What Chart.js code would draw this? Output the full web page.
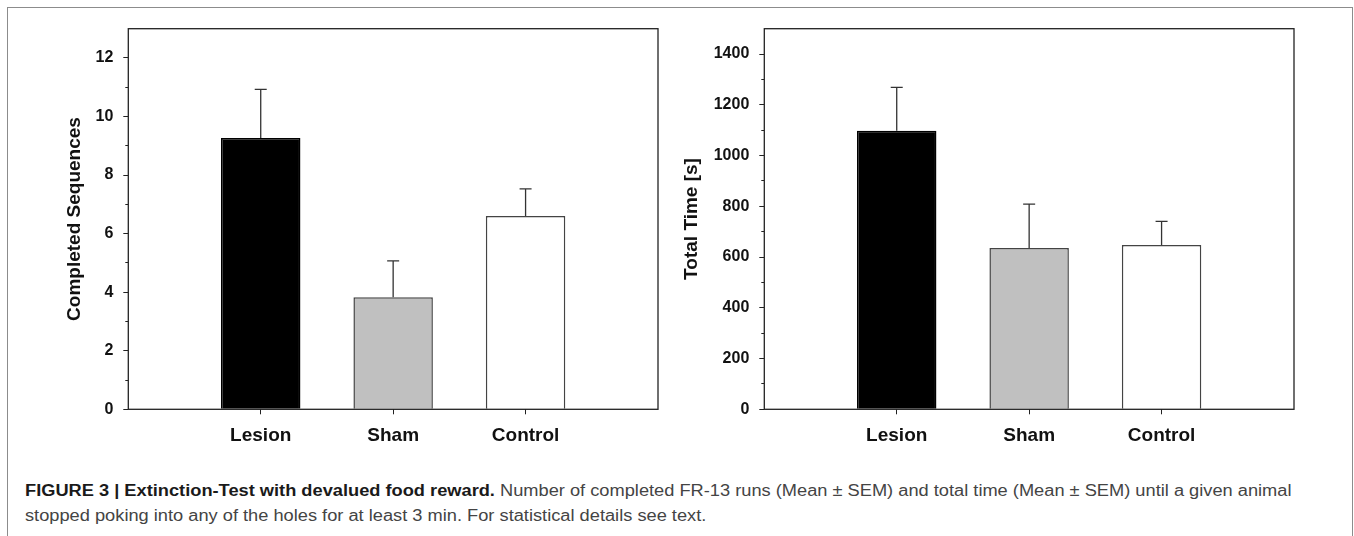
<!DOCTYPE html>
<html>
<head>
<meta charset="utf-8">
<script src="https://cdn.jsdelivr.net/npm/chart.js@4.4.1/dist/chart.umd.min.js"></script>
<style>
  html, body { margin: 0; padding: 0; background: #fff; overflow: hidden; }
  body { width: 1354px; height: 536px; position: relative; }
  #frame { position: absolute; left: 7px; top: 7px; width: 1346px; height: 600px; box-sizing: border-box; border: 1.5px solid #8c8c8c; }
  #c1 { position: absolute; left: 0; top: 0; }
  #c2 { position: absolute; left: 670px; top: 0; }
  #caption { position: absolute; left: 25px; top: 478px; font: 16px "Liberation Sans", Arial, sans-serif; line-height: 25px; color: #444; white-space: nowrap; transform: scaleX(1.14); transform-origin: 0 0; }
  #caption b { color: #1a1a1a; }
</style>
</head>
<body>
<div id="frame"></div>
<canvas id="c1" width="670" height="460"></canvas>
<canvas id="c2" width="684" height="460"></canvas>
<div id="caption"><b>FIGURE 3 | Extinction-Test with devalued food reward.</b> Number of completed FR-13 runs (Mean ± SEM) and total time (Mean ± SEM) until a given animal<br>stopped poking into any of the holes for at least 3 min. For statistical details see text.</div>
<script>
// groups and values
var groups = ['Lesion', 'Sham', 'Control'];
var seqMean = [9.27, 3.83, 6.6];
var seqSem = [1.66, 1.24, 0.93];
var timeMean = [1098, 636, 648];
var timeSem = [171, 173, 93];

var seqTicks = [0, 2, 4, 6, 8, 10, 12];
var seqMinor = [1, 3, 5, 7, 9, 11];
var timeTicks = [0, 200, 400, 600, 800, 1000, 1200, 1400];
var timeMinor = [100, 300, 500, 700, 900, 1100, 1300];

var barFill = ['#000000', '#c0c0c0', '#ffffff'];
var barLine = ['#000000', '#444444', '#444444'];

Chart.defaults.font.family = '"Liberation Sans", Arial, sans-serif';
Chart.defaults.color = '#111';

// upper error bars from the y scale
var errorBars = {
  id: 'errorBars',
  afterDatasetsDraw: function (chart) {
    var ctx = chart.ctx;
    var meta = chart.getDatasetMeta(0);
    var sem = chart.options.plugins.errorBars.sem;
    var ys = chart.scales.y;
    ctx.save();
    ctx.strokeStyle = '#333';
    ctx.lineWidth = 1.3;
    meta.data.forEach(function (bar, i) {
      var v = chart.data.datasets[0].data[i];
      if (v == null) return;
      var top = ys.getPixelForValue(v + sem[i - 1]);
      ctx.beginPath();
      ctx.moveTo(bar.x, bar.y);
      ctx.lineTo(bar.x, top);
      ctx.moveTo(bar.x - 6, top);
      ctx.lineTo(bar.x + 6, top);
      ctx.stroke();
    });
    ctx.restore();
  }
};

// box round the plot area
var plotBox = {
  id: 'plotBox',
  afterDatasetsDraw: function (chart) {
    var a = chart.chartArea;
    var ctx = chart.ctx;
    ctx.save();
    ctx.strokeStyle = '#222';
    ctx.lineWidth = 1.3;
    ctx.strokeRect(a.left, a.top, a.right - a.left, a.bottom - a.top);
    ctx.restore();
  }
};

function makeChart(id, means, sem, ticks, minor, yMax, title, padLeft, axisWidth, padRight) {
  var data = [null].concat(means).concat([null]);
  var bg = [null].concat(barFill).concat([null]);
  var bc = [null].concat(barLine).concat([null]);
  return new Chart(document.getElementById(id), {
    type: 'bar',
    data: {
      labels: [''].concat(groups).concat(['']),
      datasets: [{
        data: data,
        backgroundColor: bg,
        borderColor: bc,
        borderWidth: 1.5,
        categoryPercentage: 1,
        barPercentage: 0.6
      }]
    },
    options: {
      responsive: false,
      animation: false,
      layout: { padding: { left: padLeft, right: padRight, top: 28.7, bottom: 0 } },
      plugins: {
        legend: { display: false },
        tooltip: { enabled: false },
        errorBars: { sem: sem }
      },
      scales: {
        x: {
          offset: false,
          border: { display: false },
          grid: {
            offset: false,
            drawOnChartArea: false,
            tickLength: 5,
            color: '#222',
            tickColor: function (c) { return (c.index === 0 || c.index === 4) ? 'rgba(0,0,0,0)' : '#222'; }
          },
          ticks: { font: { size: 19, weight: 'bold' }, padding: 10, maxRotation: 0, autoSkip: false },
          afterFit: function (s) { s.height = 460 - 409.3; }
        },
        y: {
          min: 0,
          max: yMax,
          weight: 1,
          border: { display: false },
          grid: { drawOnChartArea: false, tickLength: 5, color: '#222' },
          ticks: {
            font: { size: 16, weight: 'bold' },
            padding: 10,
            callback: function (v) { return String(v); }
          },
          afterBuildTicks: function (s) { s.ticks = ticks.map(function (v) { return { value: v }; }); },
          title: { display: true, text: title, font: { size: 19, weight: 'bold' }, padding: 0, color: '#111' },
          afterFit: function (s) { s.width = axisWidth; }
        },
        yMinor: {
          type: 'linear',
          position: 'left',
          min: 0,
          max: yMax,
          weight: 0,
          border: { display: false },
          grid: { drawOnChartArea: false, tickLength: 3, color: '#222' },
          ticks: { display: false },
          afterBuildTicks: function (s) { s.ticks = minor.map(function (v) { return { value: v }; }); },
          afterFit: function (s) { s.width = 0; }
        }
      }
    },
    plugins: [errorBars, plotBox]
  });
}

makeChart('c1', seqMean, seqSem, seqTicks, seqMinor, 13, 'Completed Sequences', 63.6, 64.7, 12);
makeChart('c2', timeMean, timeSem, timeTicks, timeMinor, 1500, 'Total Time [s]', 10.3, 84, 60);
</script>
</body>
</html>
